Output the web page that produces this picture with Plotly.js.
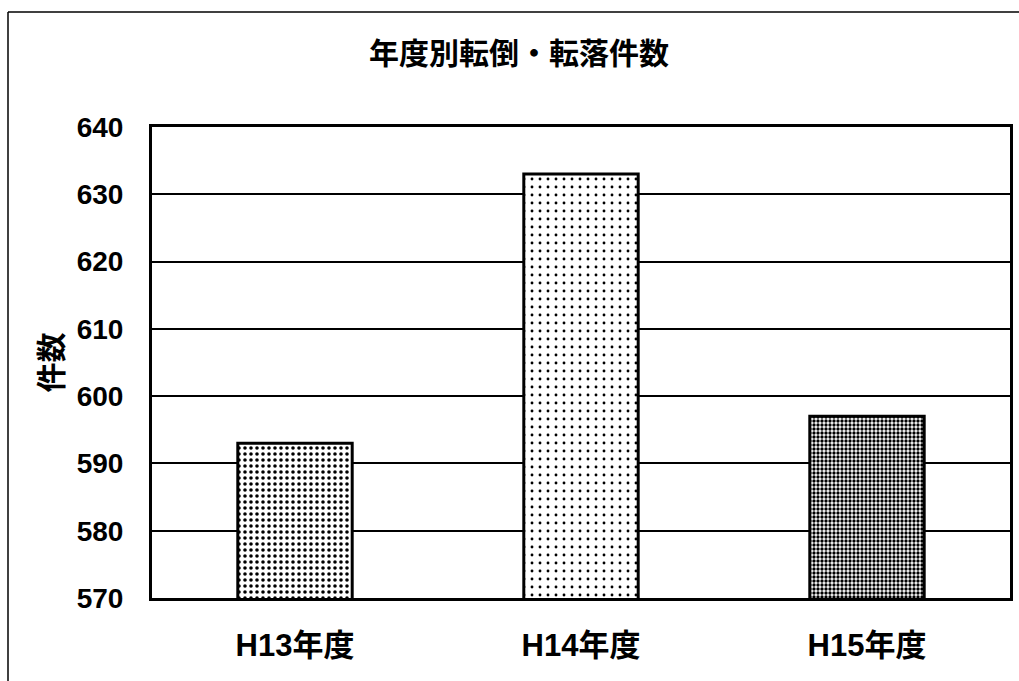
<!DOCTYPE html>
<html>
<head>
<meta charset="utf-8">
<script src="https://cdn.plot.ly/plotly-3.0.1.min.js"></script>
<style>
html,body{margin:0;padding:0;background:#fff;}
#chart{width:1019px;height:681px;}
</style>
</head>
<body>
<div id="chart"></div>
<script>
const categories = ['H13年度', 'H14年度', 'H15年度'];
const counts = [593, 633, 597];
const yTickValues = [570, 580, 590, 600, 610, 620, 630, 640];
const yTickLabels = ['570', '580', '590', '600', '610', '620', '630', '640'];

const FONT = '"Liberation Sans", Arial, "Noto Sans CJK JP", sans-serif';

const trace = {
  type: 'bar',
  x: categories,
  y: counts,
  marker: {
    color: '#ffffff',
    line: {color: '#000000', width: 3},
    pattern: {
      shape: ['.', '.', '.'],
      fgcolor: '#000000',
      bgcolor: '#ffffff',
      size: [6, 8, 4],
      solidity: [0.28, 0.1, 0.55]
    }
  },
  hoverinfo: 'x+y'
};

const layout = {
  width: 1019,
  height: 681,
  margin: {l: 152, r: 9, t: 127, b: 83},
  paper_bgcolor: '#ffffff',
  plot_bgcolor: '#ffffff',
  showlegend: false,
  bargap: 0.6,
  font: {family: FONT, color: '#000000', weight: 'bold'},
  title: {
    text: '年度別転倒・転落件数',
    font: {family: FONT, size: 30, color: '#000000', weight: 'bold'},
    x: (519 - 152) / 858, xref: 'paper', xanchor: 'center',
    y: 1 - 53 / 681, yref: 'container', yanchor: 'middle'
  },
  xaxis: {
    type: 'category',
    showgrid: false,
    zeroline: false,
    showline: true,
    linecolor: '#000000',
    linewidth: 3,
    mirror: true,
    ticks: '',
    ticklabelstandoff: 18,
    tickfont: {family: FONT, size: 31, color: '#000000', weight: 'bold'}
  },
  yaxis: {
    range: [570, 640],
    tickmode: 'array',
    tickvals: yTickValues,
    ticktext: yTickLabels,
    showgrid: true,
    gridcolor: '#000000',
    gridwidth: 2,
    zeroline: false,
    showline: true,
    linecolor: '#000000',
    linewidth: 3,
    mirror: true,
    ticks: '',
    ticklabelstandoff: 20,
    tickfont: {family: FONT, size: 28, color: '#000000', weight: 'bold'},
    title: {
      text: '件数',
      font: {family: FONT, size: 30, color: '#000000', weight: 'bold'},
      standoff: 6
    }
  },
  shapes: [
    {type: 'line', xref: 'paper', yref: 'paper',
     x0: (8 - 152) / 858, x1: (8 - 152) / 858, y0: (598 - 12) / 471, y1: (598 - 681) / 471,
     line: {color: '#000000', width: 1.5}},
    {type: 'line', xref: 'paper', yref: 'paper',
     x0: (8 - 152) / 858, x1: (1019 - 152) / 858, y0: (598 - 12) / 471, y1: (598 - 12) / 471,
     line: {color: '#000000', width: 1.5}}
  ]
};

Plotly.newPlot('chart', [trace], layout, {displayModeBar: false, responsive: false});
</script>
</body>
</html>
